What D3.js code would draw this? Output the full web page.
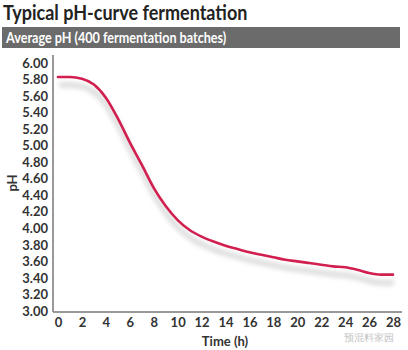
<!DOCTYPE html>
<html><head><meta charset="utf-8">
<script src="https://cdn.jsdelivr.net/npm/d3@7"></script>
<style>
body{margin:0;background:#fff;}
text{font-family:Lato,"Open Sans",sans-serif;}
</style></head>
<body><svg id="c" width="408" height="350"></svg>
<script>
const title = "Typical pH-curve fermentation";
const subtitle = "Average pH (400 fermentation batches)";
const xLabel = "Time (h)";
const yLabel = "pH";
const hours = [0,1,2,3,4,5,6,7,8,9,10,11,12,13,14,15,16,17,18,19,20,21,22,23,24,25,26,27,28];
const phValues = [5.83,5.83,5.81,5.74,5.58,5.33,5.04,4.77,4.49,4.27,4.10,3.98,3.90,3.84,3.79,3.75,3.71,3.68,3.65,3.62,3.60,3.58,3.56,3.54,3.53,3.50,3.46,3.44,3.44];
const xTicks = [0,2,4,6,8,10,12,14,16,18,20,22,24,26,28];
const yTicks = [3.0,3.2,3.4,3.6,3.8,4.0,4.2,4.4,4.6,4.8,5.0,5.2,5.4,5.6,5.8,6.0];

const svg = d3.select("#c");
const x = d3.scaleLinear().domain([0,28]).range([58,393]);
const y = d3.scaleLinear().domain([3,6]).range([311,63]);

const defs = svg.append("defs");
const f = defs.append("filter").attr("id","sh").attr("x","-10%").attr("y","-10%").attr("width","120%").attr("height","140%");
f.append("feGaussianBlur").attr("stdDeviation",2.5);

// title
svg.append("text").attr("x",0).attr("y",0).attr("font-size",20).attr("font-weight",700)
  .attr("fill","#222").attr("transform","translate(3,20) scale(0.9,1)").text(title);
svg.append("rect").attr("x",2).attr("y",27).attr("width",398).attr("height",21).attr("fill","#6b6b6b");
svg.append("text").attr("x",0).attr("y",0).attr("font-size",14.5).attr("font-weight",700)
  .attr("fill","#fff").attr("transform","translate(6,43) scale(0.87,1)").text(subtitle);

// axes
const gy = svg.append("g").attr("transform","translate(53,0)")
  .call(d3.axisLeft(y).tickValues(yTicks).tickFormat(d3.format(".2f")).tickSize(0).tickPadding(5));
const gx = svg.append("g").attr("transform","translate(0,312)")
  .call(d3.axisBottom(x).tickValues(xTicks).tickSize(0).tickPadding(5));
gy.select(".domain").attr("d","M0,55V312").attr("stroke","#999").attr("stroke-width",2);
gx.select(".domain").attr("d","M53,0H402").attr("stroke","#999").attr("stroke-width",2);
svg.selectAll(".tick text").attr("font-size",13).attr("font-weight",700).attr("fill","#333")
  .attr("font-family","Lato,'Open Sans',sans-serif");
gx.selectAll(".tick text").attr("dy","0.8em");

svg.append("text").attr("x",225).attr("y",346).attr("text-anchor","middle").attr("font-size",13)
  .attr("font-weight",700).attr("fill","#333").text(xLabel);
svg.append("text").attr("transform","translate(17,183) rotate(-90)").attr("text-anchor","middle")
  .attr("font-size",13).attr("font-weight",700).attr("fill","#333").text(yLabel);

// curve
const pts = hours.map((h,i)=>[h,phValues[i]]);
const line = d3.line().x(d=>x(d[0])).y(d=>y(d[1])).curve(d3.curveMonotoneX);
svg.append("path").attr("d",line(pts)).attr("fill","none").attr("stroke","#d8d8d8")
  .attr("stroke-width",5).attr("transform","translate(1,8)").attr("filter","url(#sh)");
svg.append("path").attr("d",line(pts)).attr("fill","none").attr("stroke","#d11f50")
  .attr("stroke-width",2.6).attr("stroke-linecap","round");

// watermark
svg.append("text").attr("x",369).attr("y",341).attr("text-anchor","middle").attr("font-size",10)
  .attr("font-family","'Noto Sans CJK SC',sans-serif").attr("fill","#c4c4c4").text("预混料家园");
</script></body></html>
